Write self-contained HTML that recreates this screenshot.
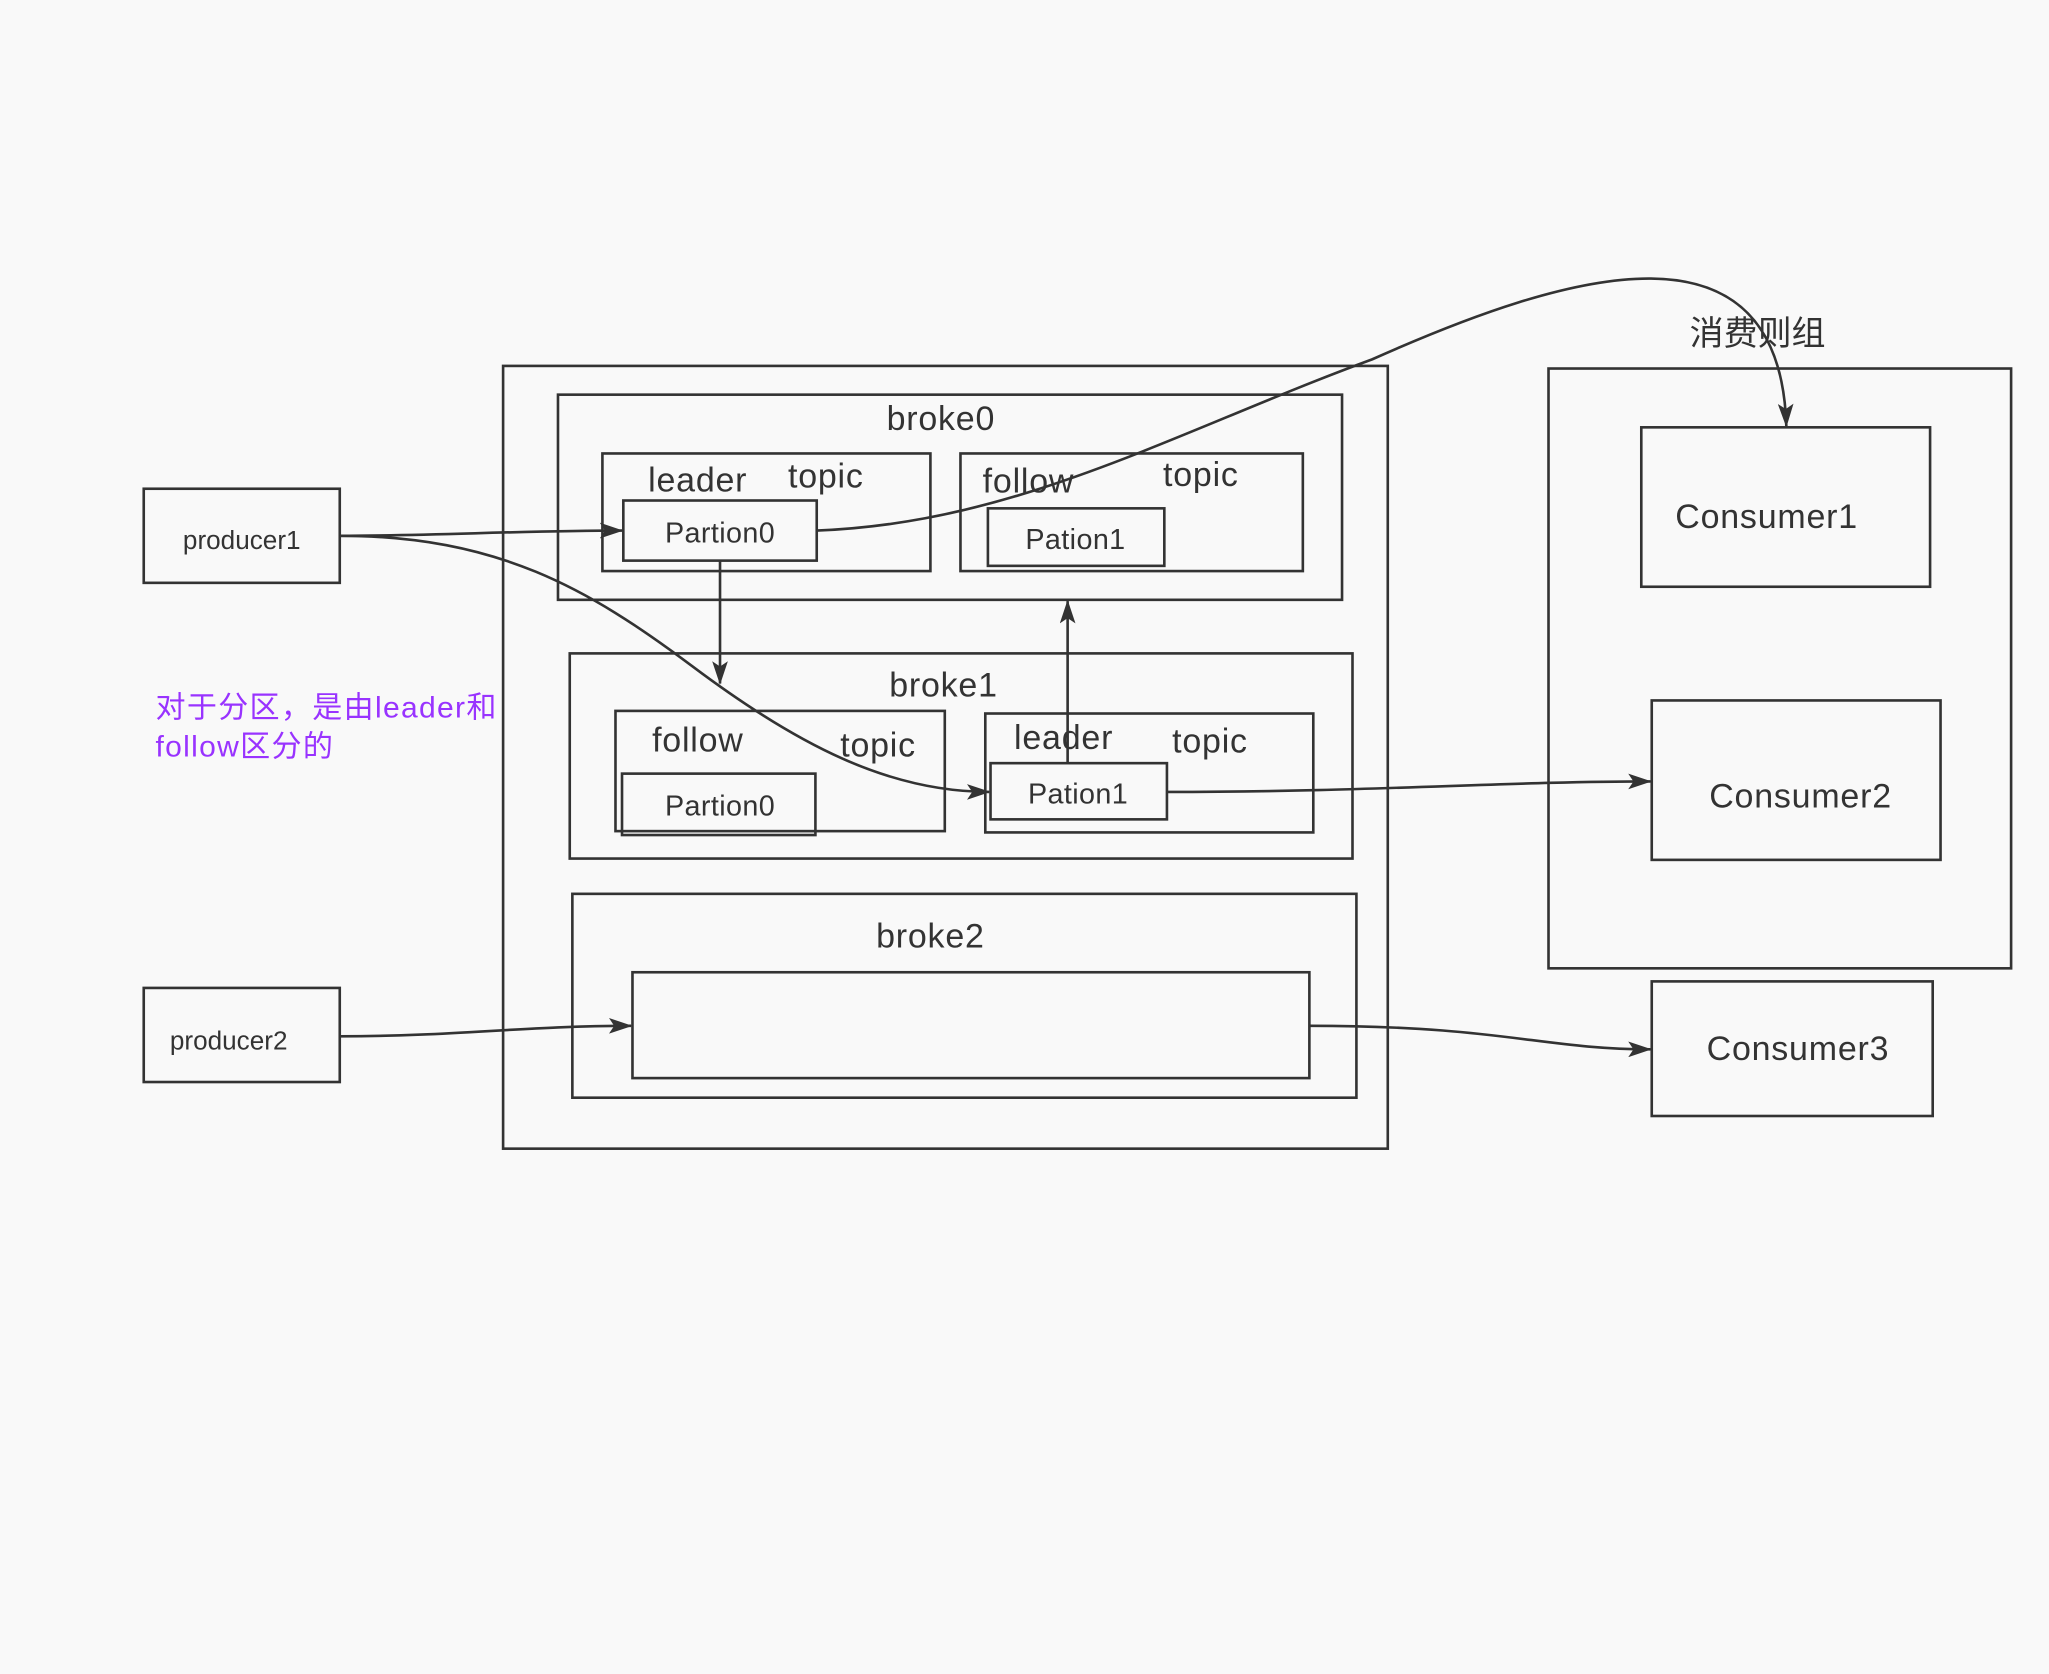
<!DOCTYPE html>
<html><head><meta charset="utf-8"><style>
html,body{margin:0;padding:0;background:#f9f9f9;}
svg{display:block;}
text{font-family:"Liberation Sans","Noto Sans CJK SC",sans-serif;fill:#333;}
</style></head><body>
<svg width="2049" height="1674" viewBox="0 0 1568 1281" xmlns="http://www.w3.org/2000/svg">
<defs><marker id="b" markerWidth="18" markerHeight="12" refX="17" refY="6" orient="auto" markerUnits="userSpaceOnUse"><path d="M0,0 L18,6 L0,12 L4,6 Z" fill="#333"/></marker></defs>
<rect width="1568" height="1281" fill="#f9f9f9"/>
<g fill="none" stroke="#333" stroke-width="2">
<rect x="385" y="280" width="677" height="599"/>
<rect x="427" y="302" width="600" height="157"/>
<rect x="461" y="347" width="251" height="90"/>
<rect x="477" y="383" width="148" height="46"/>
<rect x="735" y="347" width="262" height="90"/>
<rect x="756" y="389" width="135" height="44"/>
<rect x="436" y="500" width="599" height="157"/>
<rect x="471" y="544" width="252" height="92"/>
<rect x="476" y="592" width="148" height="47"/>
<rect x="754" y="546" width="251" height="91"/>
<rect x="758" y="584" width="135" height="43"/>
<rect x="438" y="684" width="600" height="156"/>
<rect x="484" y="744" width="518" height="81"/>
<rect x="110" y="374" width="150" height="72"/>
<rect x="110" y="756" width="150" height="72"/>
<rect x="1185" y="282" width="354" height="459"/>
<rect x="1256" y="327" width="221" height="122"/>
<rect x="1264" y="536" width="221" height="122"/>
<rect x="1264" y="751" width="215" height="103"/>
</g>
<g fill="none" stroke="#333" stroke-width="2">
<path d="M260,410 C330,410 400,406 476,406" marker-end="url(#b)"/>
<path d="M260,410 C380,410 450,450 530,510 C610,570 680,606 757,606" marker-end="url(#b)"/>
<path d="M551,429 L551,523" marker-end="url(#b)"/>
<path d="M817,584 L817,460" marker-end="url(#b)"/>
<path d="M625,406 C780,400 900,330 1050,275 C1200,208 1362,160 1367,326" marker-end="url(#b)"/>
<path d="M893,606 C1050,606 1150,598 1263,598" marker-end="url(#b)"/>
<path d="M260,793 C350,793 400,785 483,785" marker-end="url(#b)"/>
<path d="M1002,785 C1150,785 1180,803 1263,803" marker-end="url(#b)"/>
</g>
<g font-size="26" letter-spacing="0.6">
<text x="720" y="329" text-anchor="middle">broke0</text>
<text x="496" y="376">leader</text><text x="603" y="373">topic</text>
<text x="752" y="377">follow</text><text x="890" y="372">topic</text>
<text x="722" y="533" text-anchor="middle">broke1</text>
<text x="499" y="575">follow</text><text x="643" y="579">topic</text>
<text x="776" y="573">leader</text><text x="897" y="576">topic</text>
<text x="712" y="725" text-anchor="middle">broke2</text>
<text x="1282" y="404">Consumer1</text>
<text x="1308" y="618">Consumer2</text>
<text x="1306" y="811">Consumer3</text>
<text x="1293" y="264" letter-spacing="0">消费则组</text>
</g>
<g font-size="22" letter-spacing="0.3">
<text x="551" y="415" text-anchor="middle">Partion0</text>
<text x="823" y="420" text-anchor="middle">Pation1</text>
<text x="551" y="624" text-anchor="middle">Partion0</text>
<text x="825" y="615" text-anchor="middle">Pation1</text>
</g>
<g font-size="20">
<text x="185" y="420" text-anchor="middle">producer1</text>
<text x="175" y="803" text-anchor="middle">producer2</text>
</g>
<g font-size="23" letter-spacing="1">
<text x="119" y="549" style="fill:#9933ff">对于分区，是由leader和</text>
<text x="119" y="579" style="fill:#9933ff">follow区分的</text>
</g>
</svg>
</body></html>
